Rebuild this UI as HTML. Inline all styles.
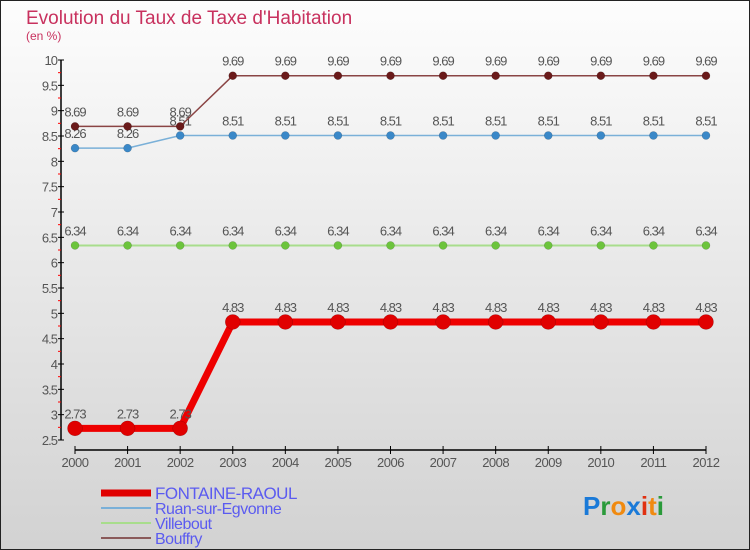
<!DOCTYPE html>
<html><head><meta charset="utf-8"><style>
body{margin:0}
#c{width:750px;height:550px;position:relative;overflow:hidden;background:linear-gradient(#fdfdfd,#d2d2d2);box-sizing:border-box;border:1px solid #222;font-family:"Liberation Sans",sans-serif}
</style></head><body>
<div id="c">
<svg id="s" width="750" height="550" style="position:absolute;left:-1px;top:-1px"></svg>
</div>
<script>
const years=[2000,2001,2002,2003,2004,2005,2006,2007,2008,2009,2010,2011,2012];
const yTicks=[2.5,3,3.5,4,4.5,5,5.5,6,6.5,7,7.5,8,8.5,9,9.5,10];
const fontaine=[2.73,2.73,2.73,4.83,4.83,4.83,4.83,4.83,4.83,4.83,4.83,4.83,4.83];
const ruan=[8.26,8.26,8.51,8.51,8.51,8.51,8.51,8.51,8.51,8.51,8.51,8.51,8.51];
const villebout=[6.34,6.34,6.34,6.34,6.34,6.34,6.34,6.34,6.34,6.34,6.34,6.34,6.34];
const bouffry=[8.69,8.69,8.69,9.69,9.69,9.69,9.69,9.69,9.69,9.69,9.69,9.69,9.69];
const seriesNames=["FONTAINE-RAOUL","Ruan-sur-Egvonne","Villebout","Bouffry"];

const NS="http://www.w3.org/2000/svg",svg=document.getElementById('s');
const X=i=>75+i*(706-75)/(years.length-1);
const Y=v=>60+(10-v)*(440-60)/7.5;
function mk(t,a,p){const e=document.createElementNS(NS,t);for(const k in a)e.setAttribute(k,a[k]);(p||svg).appendChild(e);return e;}
function fmt(v){return String(v);}

let t=mk('text',{x:26,y:24,'font-size':19,fill:'#c8315e'});t.textContent="Evolution du Taux de Taxe d'Habitation";

t=mk('text',{x:26,y:40,'font-size':12,fill:'#c8315e'});t.textContent="(en %)";


let ya=mk('line',{x1:61,y1:60,x2:61,y2:440,stroke:'#000','stroke-width':1.5});

yTicks.forEach(v=>{
 mk('line',{x1:58,x2:64,y1:Y(v),y2:Y(v),stroke:'#000'});
 if(v<10)mk('line',{x1:58,x2:61,y1:Y(v+0.25),y2:Y(v+0.25),stroke:'#f00'});
 const l=mk('text',{x:57,y:Y(v)+5,'font-size':13,fill:'#555','text-anchor':'end','letter-spacing':'-1'});l.textContent=v;
 
});
let xa=mk('line',{x1:X(0),y1:450,x2:X(12),y2:450,stroke:'#000','stroke-width':1.5});

years.forEach((y,i)=>{
 mk('line',{x1:X(i),x2:X(i),y1:446,y2:454,stroke:'#000'});
 const l=mk('text',{x:X(i),y:467,'font-size':13,fill:'#555','text-anchor':'middle','letter-spacing':'-0.5'});l.textContent=y;
 
});

function series(data,color,dot,lw,r,name){
 const g=mk('g',{});
 
 mk('polyline',{points:data.map((v,i)=>X(i)+','+Y(v)).join(' '),fill:'none',stroke:color,'stroke-width':lw,'stroke-linejoin':'round'},g);
 data.forEach((v,i)=>{
  const c=mk('circle',{cx:X(i),cy:Y(v),r:r,fill:dot,stroke:'rgba(0,0,0,0.25)','stroke-width':0.5},g);
  
  const l=mk('text',{x:X(i),y:Y(v)-10,'font-size':13,fill:'#555','text-anchor':'middle','letter-spacing':'-1'},g);l.textContent=fmt(v);
 });
}
series(villebout,'#a8dd8c','#6cc43c',2,4,'series-villebout');
series(ruan,'#7ab0d8','#3a88c8',1.5,4,'series-ruan');
series(bouffry,'#8a4444','#6a1a1a',1.5,4,'series-bouffry');
series(fontaine,'#ee0000','#e00000',7,7.5,'series-fontaine');

const lc=['#e00000','#7ab0d8','#a8dd8c','#8a5a5a'],lw=[7,2,2,2],ly=[493,508,523,538];
seriesNames.forEach((n,i)=>{
 const g=mk('g',{});
 mk('line',{x1:101,x2:151,y1:ly[i],y2:ly[i],stroke:lc[i],'stroke-width':lw[i]},g);
 const l=mk('text',{x:155,y:ly[i]+6,'font-size':i==0?17:16,fill:'#5b5bf0','letter-spacing':'-0.5'},g);l.textContent=n;
});
const lg=mk('text',{x:583,y:515,'font-size':26,'font-weight':'bold','font-family':'Liberation Sans, sans-serif'});

[['P','#1a7ad8'],['r','#2a9a3a'],['o','#f08a10'],['x','#1a7ad8'],['i','#e03010'],['t','#f08a10'],['i','#2a9a3a']].forEach(([c,col])=>{const s=mk('tspan',{fill:col},lg);s.textContent=c;});
</script>
</body></html>
